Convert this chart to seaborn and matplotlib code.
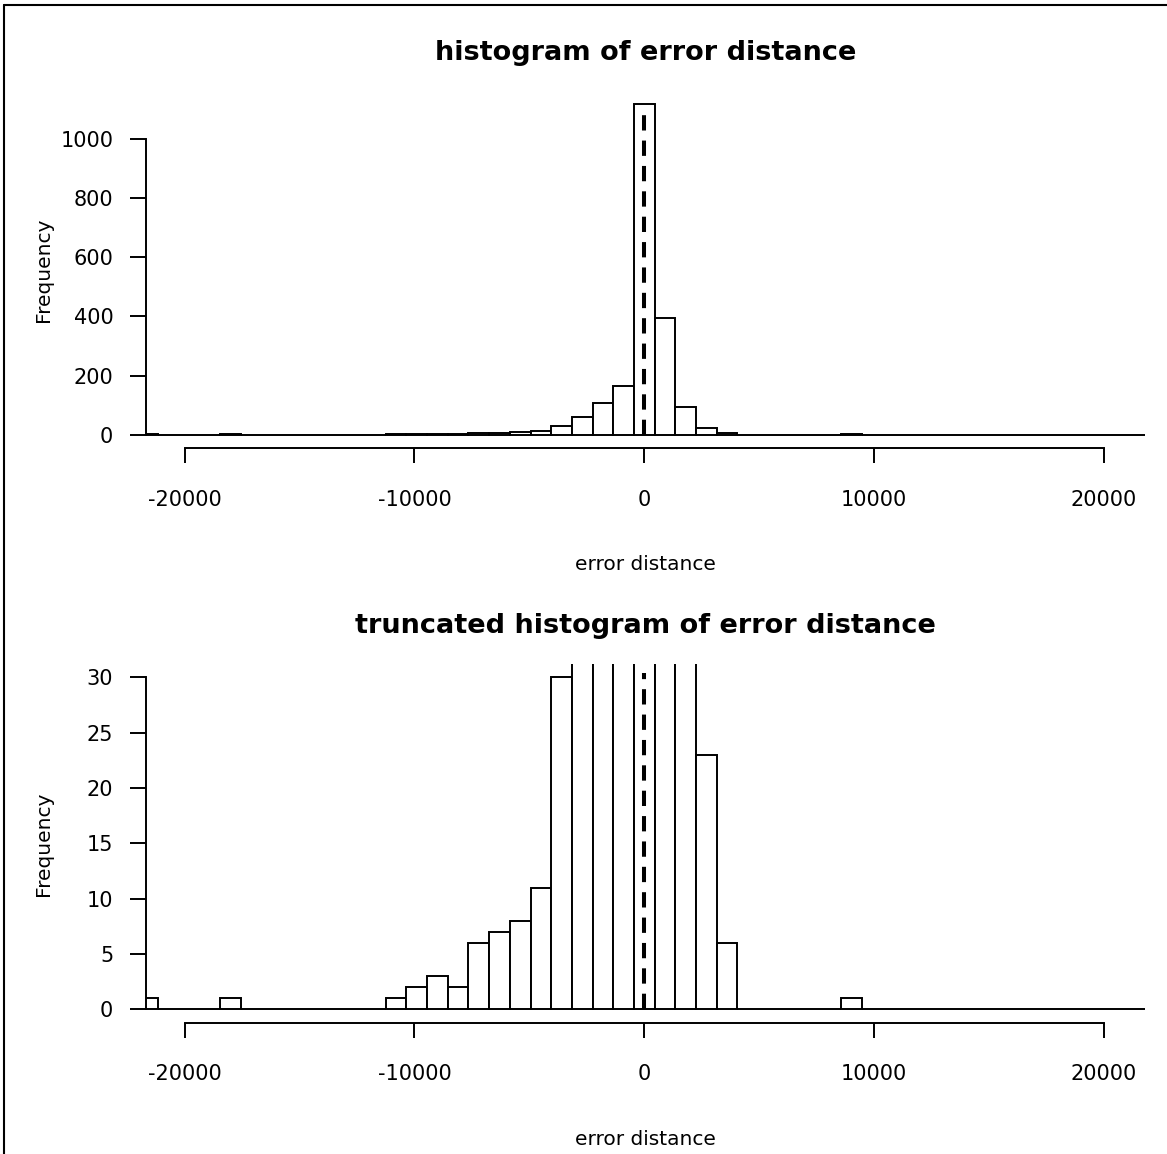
import numpy as np
import pandas as pd
import matplotlib
matplotlib.use("Agg")
import matplotlib.pyplot as plt
from matplotlib.lines import Line2D
import seaborn as sns

# Histogram bins of error distance (bin width 900, centred on multiples of 900)
bin_width = 900
bin_centers = np.arange(-21600, 21601, bin_width)
frequency = [
    1, 0, 0, 0, 1, 0, 0, 0, 0, 0, 0, 0,
    1, 2, 3, 2, 6, 7, 8, 11, 30, 61, 108, 164, 1118, 396, 95, 23, 6,
    0, 0, 0, 0, 0, 1, 0, 0, 0, 0, 0, 0, 0, 0, 0, 0, 0, 0, 0, 0,
]
x_ticks = [-20000, -10000, 0, 10000, 20000]
top_y_ticks = [0, 200, 400, 600, 800, 1000]
bottom_y_ticks = [0, 5, 10, 15, 20, 25, 30]
titles = ["histogram of error distance", "truncated histogram of error distance"]
x_label = "error distance"
y_label = "Frequency"

df = pd.DataFrame({"error": bin_centers, "freq": frequency})
edges = [float(c - bin_width / 2) for c in bin_centers] + [float(bin_centers[-1] + bin_width / 2)]

sns.set_theme(style="ticks")
plt.rcParams["font.family"] = ["DejaVu Sans"]

W, H = 1167, 1154
fig = plt.figure(figsize=(W / 100, H / 100), dpi=100)
fig.patch.set_facecolor("white")


def px_axes(left, top, right, bottom):
    return fig.add_axes([left / W, 1 - bottom / H, (right - left) / W, (bottom - top) / H])


ax_top = px_axes(145.7, 90.9, 1145, 447.9)
ax_bot = px_axes(145.7, 664.0, 1145, 1022.7)

xlim = (-21690, 21780)
ymax_top = max(frequency)
configs = [
    ((-0.04 * ymax_top, 1.04 * ymax_top), top_y_ticks, 1101),
    ((-1.2, 31.2), bottom_y_ticks, 30.4),
]

for ax, (ylim, yticks, dash_top), title in zip([ax_top, ax_bot], configs, titles):
    sns.histplot(data=df, x="error", weights="freq", bins=edges, ax=ax,
                 color="white", edgecolor="black", linewidth=1.4, alpha=1)
    ax.vlines(0, 0, dash_top, colors="black", linewidth=2.9,
              linestyles=(0, (3.8, 2.5)), zorder=5)
    ax.set_xlim(*xlim)
    ax.set_ylim(*ylim)
    ax.set_xticks(x_ticks)
    ax.set_yticks(yticks)
    ax.set_xticklabels([str(t) for t in x_ticks])
    ax.set_yticklabels([str(t) for t in yticks])
    for side in ["top", "right"]:
        ax.spines[side].set_visible(False)
    ax.spines["left"].set_bounds(yticks[0], yticks[-1])
    ax.spines["bottom"].set_bounds(x_ticks[0], x_ticks[-1])
    for side in ["left", "bottom"]:
        ax.spines[side].set_linewidth(1.4)
        ax.spines[side].set_color("black")
    ax.tick_params(axis="x", direction="out", length=11.0, width=1.4, pad=19,
                   labelsize=15, colors="black")
    ax.tick_params(axis="y", direction="out", length=11.3, width=1.4, pad=12,
                   labelsize=15, colors="black")
    ax.set_facecolor("white")
    ax.grid(False)

    h = ax.get_position().height * H
    ax.set_xlabel(x_label, fontsize=14.5, color="black")
    ax.xaxis.set_label_coords(0.5, -122.1 / h)
    ax.xaxis.label.set_verticalalignment("baseline")
    ax.set_ylabel(y_label, fontsize=14.5, color="black")
    ax.yaxis.set_label_coords(-92.4 / 999.3, 0.5)
    ax.text(0.5, 1 + 31.0 / h, title, transform=ax.transAxes, ha="center",
            va="baseline", fontsize=19.5, fontweight="bold", color="black")

# Frame lines along the top and left edges of the figure
fig.add_artist(Line2D([4 / W, 1], [1 - 5 / H, 1 - 5 / H], color="black", linewidth=1.5))
fig.add_artist(Line2D([4 / W, 4 / W], [0, 1 - 5 / H], color="black", linewidth=1.5))

fig.savefig("out.png", dpi=100, facecolor="white")
